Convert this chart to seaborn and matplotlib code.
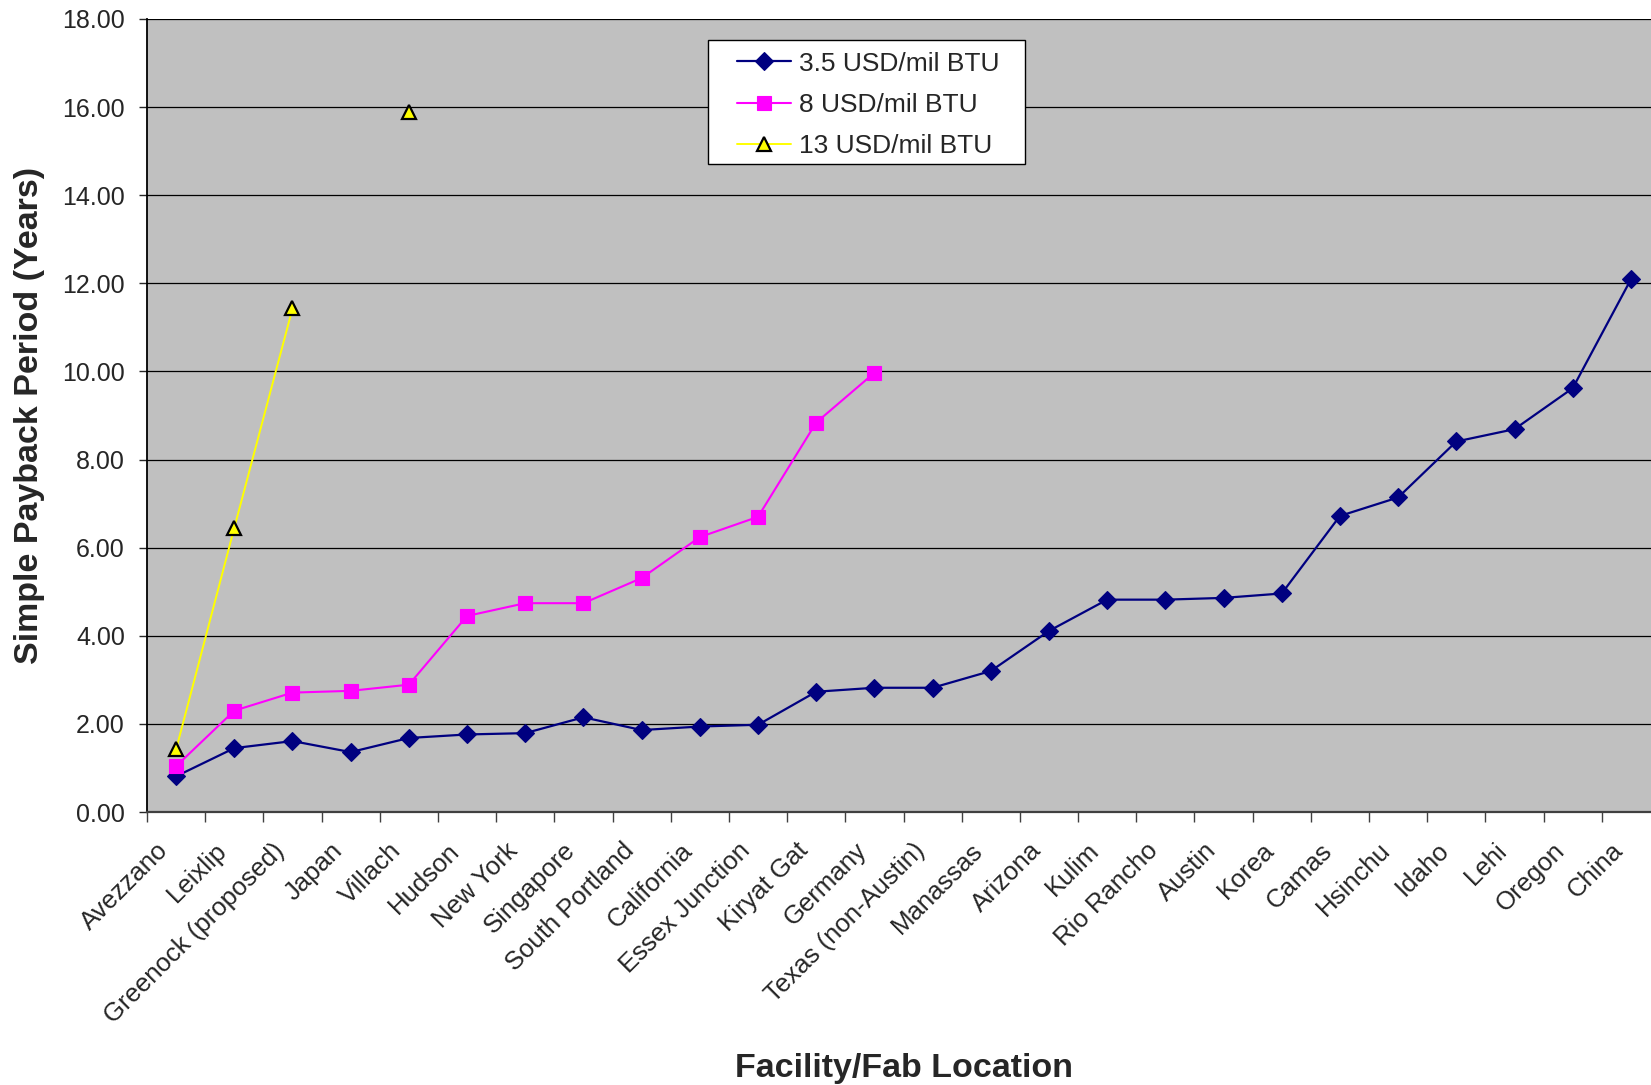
import numpy as np
import pandas as pd
import matplotlib
matplotlib.use("Agg")
import matplotlib.pyplot as plt
from matplotlib.lines import Line2D
from matplotlib.patches import Rectangle
import matplotlib.transforms as mtransforms
import seaborn as sns

# Fab locations along the x axis
locations = [
    "Avezzano", "Leixlip", "Greenock (proposed)", "Japan", "Villach", "Hudson",
    "New York", "Singapore", "South Portland", "California", "Essex Junction",
    "Kiryat Gat", "Germany", "Texas (non-Austin)", "Manassas", "Arizona", "Kulim",
    "Rio Rancho", "Austin", "Korea", "Camas", "Hsinchu", "Idaho", "Lehi",
    "Oregon", "China",
]

# Simple payback period (years) at each gas price
payback_3_5 = [0.81, 1.45, 1.61, 1.36, 1.68, 1.76, 1.79, 2.15, 1.86, 1.94, 1.98,
               2.73, 2.82, 2.82, 3.20, 4.11, 4.82, 4.82, 4.86, 4.96, 6.72, 7.14,
               8.41, 8.69, 9.62, 12.09]
payback_8 = [1.04, 2.30, 2.71, 2.75, 2.89, 4.45, 4.74, 4.74, 5.31, 6.24, 6.70,
             8.84, 9.97] + [None] * 13
payback_13 = [1.42, 6.45, 11.43, None, 15.90] + [None] * 21

series_names = ["3.5 USD/mil BTU", "8 USD/mil BTU", "13 USD/mil BTU"]
series_values = [payback_3_5, payback_8, payback_13]

y_ticks = [0, 2, 4, 6, 8, 10, 12, 14, 16, 18]

styles = {
    "3.5 USD/mil BTU": dict(color="#000080", marker="D", markersize=9,
                            markerfacecolor="#000080", markeredgecolor="#000080",
                            markeredgewidth=0.8, linewidth=1.6),
    "8 USD/mil BTU": dict(color="#FF00FF", marker="s", markersize=10.5,
                          markerfacecolor="#FF00FF", markeredgecolor="#FF00FF",
                          markeredgewidth=0.8, linewidth=1.5),
    "13 USD/mil BTU": dict(color="#FFFF00", marker="^", markersize=10.5,
                           markerfacecolor="#FFFF00", markeredgecolor="black",
                           markeredgewidth=1.6, linewidth=1.4),
}

sns.set_style("white")
plt.rcParams["font.family"] = ["Liberation Sans", "DejaVu Sans"]

fig = plt.figure(figsize=(16.51, 10.85), dpi=100)
W, H = 1651, 1085
left, right, top, bottom = 147, 1660, 19, 812
ax = fig.add_axes([left / W, 1 - bottom / H, (right - left) / W, (bottom - top) / H])
ax.set_facecolor("#C0C0C0")


def ax_x(px):
    return (px - left) / (right - left)


def ax_y(py):
    return (bottom - py) / (bottom - top)


# Build tidy frame; break each series into contiguous runs so gaps stay open
rows = []
for name, vals in zip(series_names, series_values):
    run = 0
    prev_ok = False
    for i, v in enumerate(vals):
        if v is None:
            if prev_ok:
                run += 1
            prev_ok = False
            continue
        rows.append({"series": name, "pos": i, "value": v, "run": run})
        prev_ok = True
df = pd.DataFrame(rows)

# Gridlines first so lines sit above them
for yt in y_ticks:
    ax.axhline(yt, color="black", linewidth=0.9, zorder=1)

for name in series_names:
    sub = df[df["series"] == name]
    sns.lineplot(data=sub, x="pos", y="value", units="run", estimator=None,
                 sort=False, ax=ax, zorder=3, legend=False, **styles[name])

ax.set_xlim(-0.5, len(locations) - 0.5)
ax.set_ylim(0, 18)

ax.set_yticks(y_ticks)
ax.set_yticklabels([f"{t:.2f}" for t in y_ticks], fontsize=18)
ax.tick_params(axis="y", direction="out", length=6, width=1, pad=10, left=True)

# Category boundary ticks with centered labels
ax.set_xticks(np.arange(-0.5, len(locations), 1.0))
ax.set_xticklabels([])
ax.set_xticks(np.arange(len(locations)), minor=True)
ax.set_xticklabels(locations, minor=True, rotation=45, ha="right", va="top",
                   rotation_mode="anchor", fontsize=18.5)
ax.tick_params(axis="x", which="major", direction="out", length=7, width=1,
               bottom=True, color="#404040")
ax.tick_params(axis="x", which="minor", length=0, pad=19)
shift = mtransforms.ScaledTranslation(-20 / 100, 0, fig.dpi_scale_trans)
for lbl in ax.get_xticklabels(minor=True):
    lbl.set_transform(lbl.get_transform() + shift)

for s in ["top", "right"]:
    ax.spines[s].set_visible(False)
ax.spines["left"].set_color("black")
ax.spines["left"].set_linewidth(1.3)
ax.spines["bottom"].set_color("#404040")
ax.spines["bottom"].set_linewidth(1.6)

ax.set_xlabel("")
ax.set_ylabel("Simple Payback Period (Years)", fontsize=24.5, fontweight="bold")
ax.yaxis.set_label_coords(ax_x(29.5), 0.5)
ax.yaxis.label.set_va("center")
fig.text((left + right) / 2 / W, 1 - 1068 / H, "Facility/Fab Location",
         ha="center", va="center", fontsize=24.5, fontweight="bold")

# Legend: white box with black border, entries placed inside it
box_l, box_t, box_r, box_b = 708, 40, 1025, 164
ax.add_patch(Rectangle((ax_x(box_l), ax_y(box_b)), ax_x(box_r) - ax_x(box_l),
                       ax_y(box_t) - ax_y(box_b), transform=ax.transAxes,
                       facecolor="white", edgecolor="black", linewidth=1.0,
                       zorder=5))
handles = [Line2D([], [], **styles[n]) for n in series_names]
leg = ax.legend(handles, series_names, loc="center left",
                bbox_to_anchor=(ax_x(737), ax_y((box_t + box_b) / 2 + 3)),
                fontsize=19, frameon=False, handlelength=2.05,
                handletextpad=0.3, labelspacing=0.66, borderpad=0,
                borderaxespad=0)
leg.set_zorder(6)

fig.savefig("out.png", dpi=100, facecolor="white")
